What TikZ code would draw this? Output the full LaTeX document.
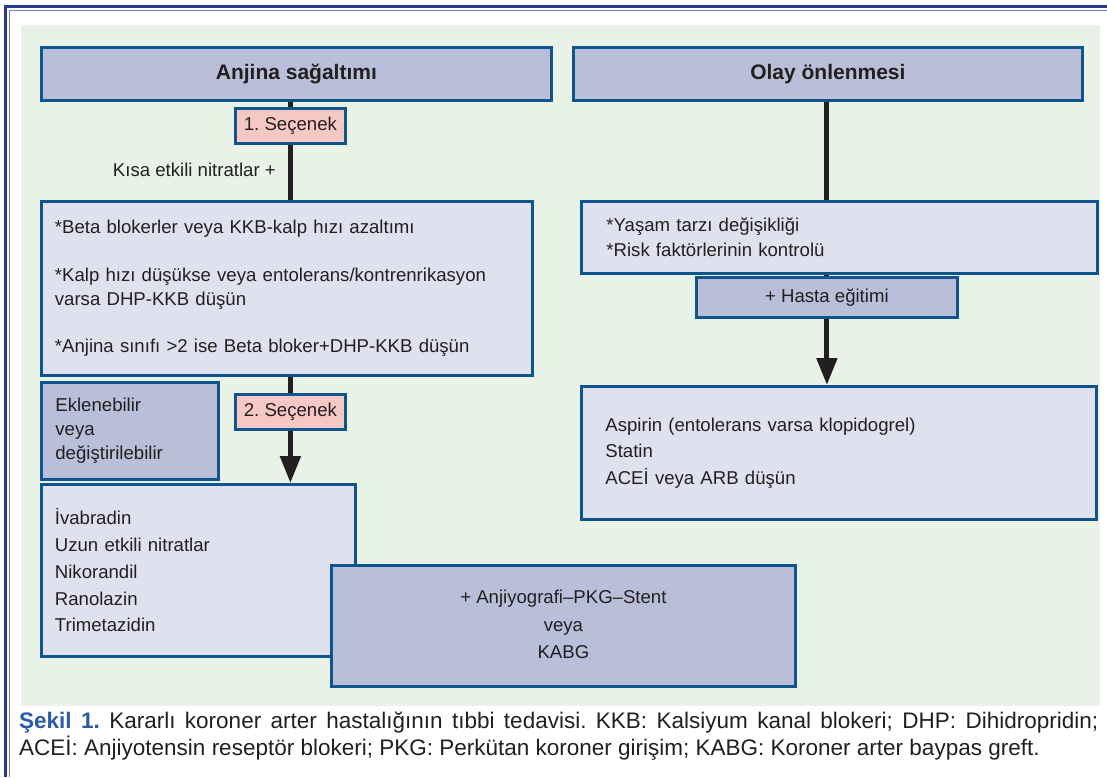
\documentclass[tikz,border=0pt]{standalone}
\usepackage{fontspec}
\setmainfont{Liberation Sans}
\usetikzlibrary{arrows.meta,calc}
\pgfdeclarelayer{bg}
\pgfdeclarelayer{lines}
\pgfsetlayers{bg,lines,main}
\definecolor{framedark}{HTML}{2B3990}
\definecolor{framelight}{HTML}{7080C0}
\definecolor{bggreen}{HTML}{E8F2E7}
\definecolor{lavc}{HTML}{B9BED9}
\definecolor{lightc}{HTML}{DFE1EE}
\definecolor{pinkc}{HTML}{F6C8C3}
\definecolor{bordc}{HTML}{0F548C}
\definecolor{txtc}{HTML}{231F20}
\definecolor{capblue}{HTML}{2B5BA6}
\frenchspacing
\begin{document}
\begin{tikzpicture}[x=1pt,y=-1pt,
  box/.style={draw=bordc, line width=2.8pt, rectangle, inner sep=0pt, anchor=north west, text=txtc,
    font=\fontsize{18.6}{23.7}\selectfont},
  lavbox/.style={box, fill=lavc},
  ltbox/.style={box, fill=lightc},
  pkbox/.style={box, fill=pinkc},
  head/.style={lavbox, font=\fontsize{21}{25}\selectfont\bfseries},
  conn/.style={line width=5pt, draw=txtc},
  arr/.style={conn, -{Triangle[length=27pt,width=20pt]}},
  captxt/.style={anchor=base west, inner sep=0pt, text=txtc, font=\fontsize{22.5}{27}\selectfont}
]
\useasboundingbox (0,0) rectangle (1107,777);
% frame and background
\begin{pgfonlayer}{bg}
\fill[white] (0,0) rectangle (1107,777);
\fill[bggreen] (21,25) rectangle (1100,706);
\draw[framedark, line width=3pt] (5.5,777) -- (5.5,6.5) -- (1107,6.5);
\draw[framelight, line width=1.5pt] (9.7,777) -- (9.7,10.7) -- (1107,10.7);
\end{pgfonlayer}

% headers
\node[head, minimum width=510pt, minimum height=53pt] (anjina) at (40,46) {Anjina sağaltımı};
\node[head, minimum width=509pt, minimum height=53pt] (olay) at (572,46) {Olay önlenmesi};

% left column
\node[pkbox, minimum width=110pt, minimum height=35pt] (sec1) at (234,107) {1. Seçenek};
\node[anchor=east, inner sep=0pt, text=txtc, font=\fontsize{18.6}{23.7}\selectfont] (kisa) at (276,170) {Kısa etkili nitratlar +};
\node[ltbox, minimum width=491pt, minimum height=174pt, text width=464pt, inner xsep=13.5pt, align=left] (beta) at (40,200)
  {*Beta blokerler veya KKB-kalp hızı azaltımı\\[23.7pt]
   *Kalp hızı düşükse veya entolerans/kontrenrikasyon\\
   varsa DHP-KKB düşün\\[23.7pt]
   *Anjina sınıfı >2 ise Beta bloker+DHP-KKB düşün};
\node[lavbox, minimum width=177pt, minimum height=97pt, text width=149pt, inner xsep=14pt, align=left,
  font=\fontsize{18.6}{24}\selectfont] (ekl) at (40,381)
  {Eklenebilir\\ veya\\ değiştirilebilir};
\node[pkbox, minimum width=110pt, minimum height=35pt] (sec2) at (234,393) {2. Seçenek};
\node[ltbox, minimum width=314pt, minimum height=172pt, text width=287pt, inner xsep=13.5pt, align=left,
  font=\fontsize{18.6}{26.7}\selectfont] (ivab) at (40,483)
  {İvabradin\\ Uzun etkili nitratlar\\ Nikorandil\\ Ranolazin\\ Trimetazidin};
\node[lavbox, minimum width=464pt, minimum height=121pt, align=center,
  font=\fontsize{18.6}{26.5}\selectfont] (kabg) at (330,564)
  {\raisebox{-4.5pt}{\begin{tabular}{@{}c@{}}+ Anjiyografi–PKG–Stent\\[0.9pt] veya\\[0.9pt] KABG\end{tabular}}};

% right column
\node[ltbox, minimum width=491pt, minimum height=72pt, text width=466pt, inner xsep=25pt, align=left,
  font=\fontsize{18.6}{25}\selectfont] (yasam) at (580,200)
  {*Yaşam tarzı değişikliği\\\relax *Risk faktörlerinin kontrolü};
\node[lavbox, minimum width=261pt, minimum height=40pt] (hasta) at (695,276) {+ Hasta eğitimi};
\node[ltbox, minimum width=491pt, minimum height=133pt, text width=467pt, inner xsep=24pt, align=left,
  font=\fontsize{18.6}{26.5}\selectfont] (aspirin) at (580,385)
  {Aspirin (entolerans varsa klopidogrel)\\ Statin\\ ACEİ veya ARB düşün};

% connectors
\begin{pgfonlayer}{lines}
\draw[conn] (sec1.center |- anjina.south) -- (sec1.center |- beta.north);
\draw[arr] (sec2.center |- beta.south) -- (sec2.center |- ivab.north);
\draw[conn] (hasta.center |- olay.south) -- (hasta.center |- yasam.north);
\draw[arr] (hasta.center |- yasam.south) -- (hasta.center |- aspirin.north);
\end{pgfonlayer}

% caption
\node[captxt] (cap1) at (19,728) {\makebox[1079pt][s]{\textcolor{capblue}{\bfseries Şekil 1.} Kararlı koroner arter hastalığının tıbbi tedavisi. KKB: Kalsiyum kanal blokeri; DHP: Dihidropridin;}};
\node[captxt] (cap2) at (19,755) {ACEİ: Anjiyotensin reseptör blokeri; PKG: Perkütan koroner girişim; KABG: Koroner arter baypas greft.};
\end{tikzpicture}
\end{document}
